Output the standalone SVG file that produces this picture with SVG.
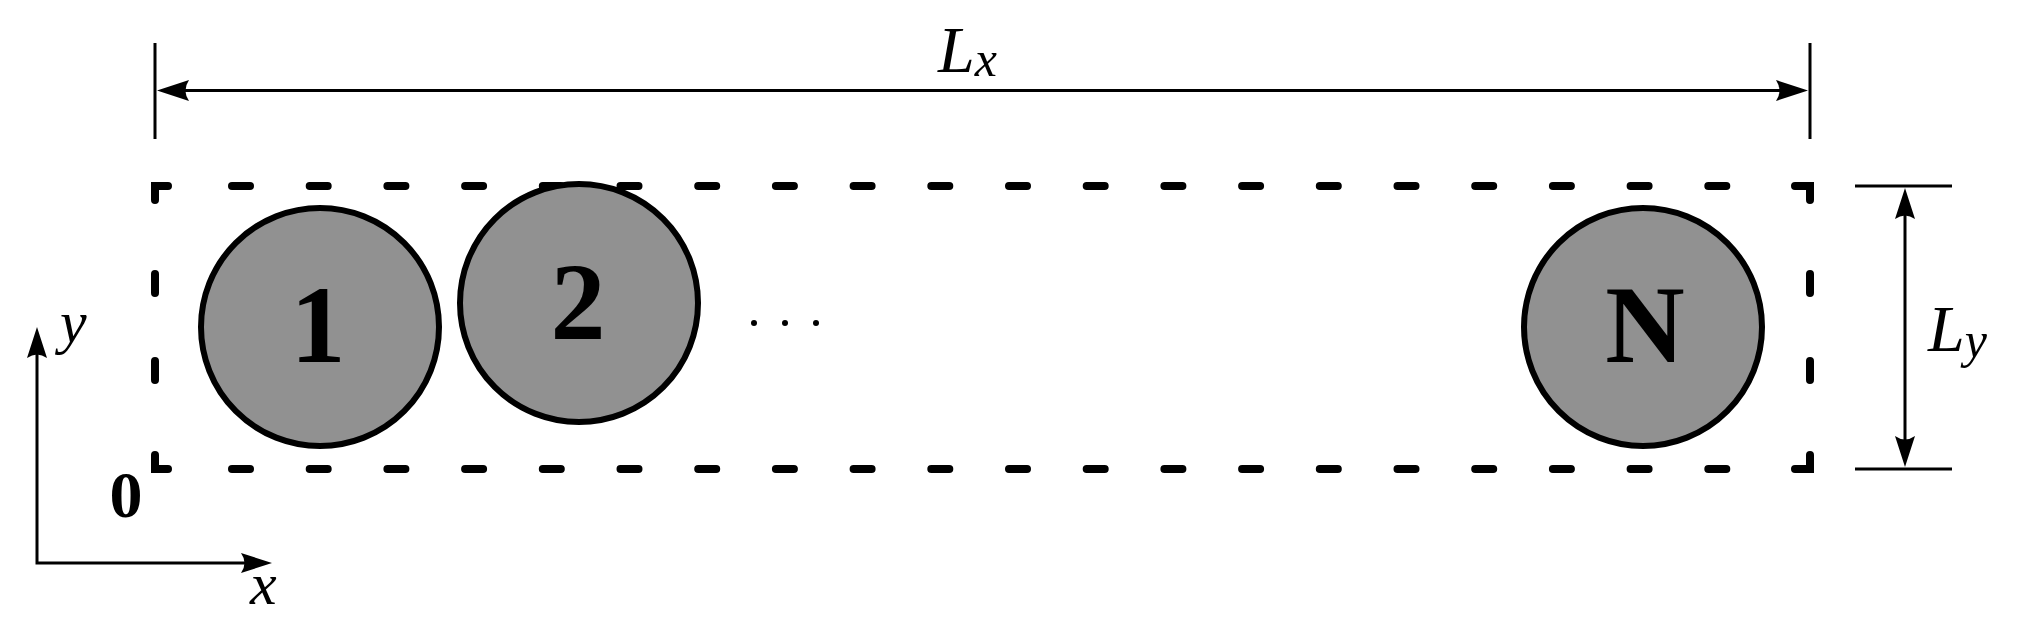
<svg xmlns="http://www.w3.org/2000/svg" width="2030" height="633" viewBox="0 0 2030 633">
<style>
.d{stroke:#000;stroke-width:8;stroke-linecap:round;fill:none}
.t{stroke:#000;stroke-width:3;fill:none}
.c{fill:#919191;stroke:#000;stroke-width:6}
.m{font-family:'Liberation Serif',serif;font-style:italic;font-size:66px}
.b{font-family:'Liberation Serif',serif;font-weight:bold;font-size:110px;text-anchor:middle}
</style>
<g id="box">
<path class="d" d="M155,200 V186 H168 M1795,186 H1810 V200 M155,455 V469 H168 M1795,469 H1810 V455"/>
<line class="d" x1="232" y1="186" x2="1780" y2="186" stroke-dasharray="18 59.7"/>
<line class="d" x1="232" y1="469" x2="1780" y2="469" stroke-dasharray="18 59.7"/>
<path class="d" d="M155,274 V293 M155,361 V380 M1810,274 V293 M1810,361 V380"/>
</g>
<g id="connectors">
<path class="t" d="M155,43 V139 M1810,43 V139 M1855,186 H1952 M1855,469 H1952"/>
<line class="t" x1="182" y1="90.5" x2="1783" y2="90.5"/>
<path d="M157,90.5 L189,80 Q182,90.5 189,101Z"/>
<path d="M1808,90.5 L1776,80 Q1783,90.5 1776,101Z"/>
<line class="t" x1="1905" y1="210" x2="1905" y2="445"/>
<path d="M1905,188 L1895,219 Q1905,212 1915,219Z"/>
<path d="M1905,467 L1895,436 Q1905,443 1915,436Z"/>
<path class="t" d="M37,350 V563 H248"/>
<path d="M37,327 L27,358 Q37,351 47,358Z"/>
<path d="M272,563 L241,553 Q248,563 241,573Z"/>
</g>
<g id="n1"><circle class="c" cx="320" cy="327" r="119"/><text class="b" x="318" y="362">1</text></g>
<g id="n2"><circle class="c" cx="579" cy="303" r="119"/><text class="b" x="578" y="339">2</text></g>
<g id="nN"><circle class="c" cx="1643" cy="327" r="119"/><text class="b" x="1645" y="362">N</text></g>
<g id="dots"><circle cx="754" cy="323" r="3"/><circle cx="785" cy="323" r="3"/><circle cx="816" cy="323" r="3"/></g>
<g id="labels">
<text class="m" x="938" y="72">L<tspan style="font-size:50px" dy="4">x</tspan></text>
<text class="m" x="1928" y="351">L<tspan style="font-size:50px" dy="6">y</tspan></text>
<text class="m" x="60" y="342" style="font-size:60px">y</text>
<text class="m" x="250" y="604" style="font-size:60px">x</text>
<text class="b" x="126" y="517" style="font-size:66px">0</text>
</g>
</svg>
